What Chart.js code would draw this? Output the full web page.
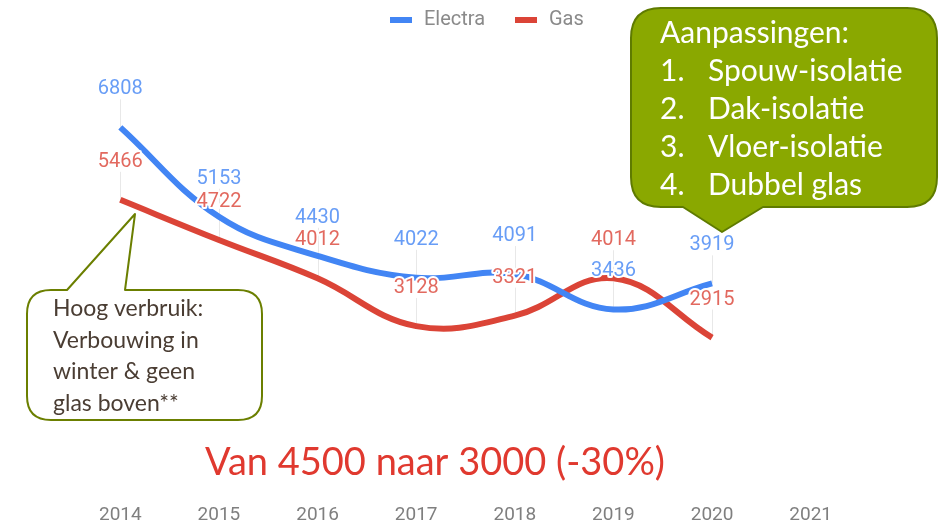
<!DOCTYPE html>
<html>
<head>
<meta charset="utf-8">
<script src="https://cdn.jsdelivr.net/npm/chart.js@4/dist/chart.umd.min.js"></script>
<style>
html,body{margin:0;padding:0;background:#fff;}
#wrap{width:940px;height:524px;position:relative;}
</style>
</head>
<body>
<div id="wrap"><canvas id="c" width="940" height="524"></canvas></div>
<script>
const years = ['2014','2015','2016','2017','2018','2019','2020','2021'];
const electra = [6808, 5153, 4430, 4022, 4091, 3436, 3919, null];
const gas = [5466, 4722, 4012, 3128, 3321, 4014, 2915, null];
const seriesNames = ['Electra', 'Gas'];
const calloutRight = ['Aanpassingen:', 'Spouw-isolatie', 'Dak-isolatie', 'Vloer-isolatie', 'Dubbel glas'];
const calloutLeft = ['Hoog verbruik:', 'Verbouwing in', 'winter & geen', 'glas boven**'];
const headline = 'Van 4500 naar 3000 (-30%)';

const BLUE = '#4285F4', RED = '#DB4437';
const LBL_BLUE = 'rgba(66,133,244,0.8)', LBL_RED = 'rgba(219,68,55,0.8)';
const HUMAN = 'Lato, "Open Sans", sans-serif';

const overlay = {
  id: 'overlay',
  beforeDatasetsDraw(chart) {
    const ctx = chart.ctx;
    ctx.save();
    ctx.strokeStyle = '#e8e8e8';
    ctx.lineWidth = 1;
    chart.data.datasets.forEach((ds, i) => {
      const meta = chart.getDatasetMeta(i);
      meta.data.forEach((pt, j) => {
        if (ds.data[j] == null) return;
        ctx.beginPath();
        ctx.moveTo(Math.round(pt.x) + 0.5, pt.y - 28);
        ctx.lineTo(Math.round(pt.x) + 0.5, pt.y);
        ctx.stroke();
      });
    });
    ctx.restore();
  },
  afterDatasetsDraw(chart) {
    const ctx = chart.ctx;
    ctx.save();
    // data labels
    ctx.font = '20px Roboto, sans-serif';
    ctx.textAlign = 'center';
    ctx.textBaseline = 'middle';
    chart.data.datasets.forEach((ds, i) => {
      const meta = chart.getDatasetMeta(i);
      const col = i === 0 ? LBL_BLUE : LBL_RED;
      meta.data.forEach((pt, j) => {
        const v = ds.data[j];
        if (v == null) return;
        const y = pt.y - 38;
        ctx.lineWidth = 4;
        ctx.strokeStyle = '#fff';
        ctx.lineJoin = 'round';
        ctx.strokeText(String(v), pt.x, y);
        ctx.fillStyle = col;
        ctx.fillText(String(v), pt.x, y);
      });
    });

    // legend
    ctx.font = '20px Roboto, sans-serif';
    ctx.textAlign = 'left';
    ctx.textBaseline = 'middle';
    const legendItems = [
      {x: 390, color: BLUE, text: seriesNames[0]},
      {x: 515, color: RED, text: seriesNames[1]}
    ];
    legendItems.forEach(it => {
      ctx.fillStyle = it.color;
      ctx.fillRect(it.x, 17, 22, 6);
      ctx.fillStyle = '#8a8a8a';
      ctx.fillText(it.text, it.x + 34, 20);
    });

    // right callout
    ctx.lineWidth = 2;
    ctx.strokeStyle = '#5f7b00';
    ctx.fillStyle = '#8aa800';
    ctx.beginPath();
    const bx = 631, by = 8, bw = 306, bh = 199, r = 30;
    ctx.moveTo(bx + r, by);
    ctx.lineTo(bx + bw - r, by);
    ctx.quadraticCurveTo(bx + bw, by, bx + bw, by + r);
    ctx.lineTo(bx + bw, by + bh - r);
    ctx.quadraticCurveTo(bx + bw, by + bh, bx + bw - r, by + bh);
    ctx.lineTo(763, by + bh);
    ctx.lineTo(722, 232);
    ctx.lineTo(683, by + bh);
    ctx.lineTo(bx + r, by + bh);
    ctx.quadraticCurveTo(bx, by + bh, bx, by + bh - r);
    ctx.lineTo(bx, by + r);
    ctx.quadraticCurveTo(bx, by, bx + r, by);
    ctx.closePath();
    ctx.fill();
    ctx.stroke();

    ctx.fillStyle = '#ffffff';
    ctx.font = '30px ' + HUMAN;
    ctx.textBaseline = 'middle';
    ctx.fillText(calloutRight[0], 660, 33);
    for (let k = 1; k < calloutRight.length; k++) {
      const y = 33 + k * 38;
      ctx.fillText(k + '.', 660, y);
      ctx.fillText(calloutRight[k], 708, y);
    }

    // left callout
    ctx.fillStyle = '#ffffff';
    ctx.strokeStyle = '#6b7f00';
    ctx.lineWidth = 2;
    const lx = 27, ly = 290, lw = 235, lh = 130, lr = 24;
    ctx.beginPath();
    ctx.moveTo(lx + lr, ly);
    ctx.lineTo(67, ly);
    ctx.lineTo(135, 214);
    ctx.lineTo(125, ly);
    ctx.lineTo(lx + lw - lr, ly);
    ctx.quadraticCurveTo(lx + lw, ly, lx + lw, ly + lr);
    ctx.lineTo(lx + lw, ly + lh - lr);
    ctx.quadraticCurveTo(lx + lw, ly + lh, lx + lw - lr, ly + lh);
    ctx.lineTo(lx + lr, ly + lh);
    ctx.quadraticCurveTo(lx, ly + lh, lx, ly + lh - lr);
    ctx.lineTo(lx, ly + lr);
    ctx.quadraticCurveTo(lx, ly, lx + lr, ly);
    ctx.closePath();
    ctx.fill();
    ctx.stroke();

    ctx.fillStyle = '#4a3d33';
    ctx.font = '23px ' + HUMAN;
    calloutLeft.forEach((t, k) => {
      ctx.fillText(t, 53, 309 + k * 31.5);
    });

    // headline
    ctx.fillStyle = '#e0392f';
    ctx.font = '38px ' + HUMAN;
    ctx.textAlign = 'center';
    ctx.fillText(headline, 435, 463);
    ctx.restore();
  }
};

new Chart(document.getElementById('c'), {
  type: 'line',
  data: {
    labels: years,
    datasets: [
      {label: seriesNames[0], data: electra, borderColor: BLUE, backgroundColor: BLUE, borderWidth: 6, pointRadius: 0, tension: 0.4, borderCapStyle: 'butt'},
      {label: seriesNames[1], data: gas, borderColor: RED, backgroundColor: RED, borderWidth: 6, pointRadius: 0, tension: 0.4, borderCapStyle: 'butt'}
    ]
  },
  options: {
    responsive: false,
    animation: false,
    layout: {padding: {left: 71, right: 80, top: 63, bottom: 0}},
    plugins: {legend: {display: false}, tooltip: {enabled: false}},
    scales: {
      x: {
        offset: true,
        grid: {display: false, drawTicks: false},
        border: {display: false},
        ticks: {color: '#7f7f7f', font: {family: 'Roboto', size: 19}, padding: 9, maxRotation: 0},
        afterFit: (s) => { s.height = 29; }
      },
      y: {display: false, min: 0, max: 8000}
    }
  },
  plugins: [overlay]
});
</script>
</body>
</html>
